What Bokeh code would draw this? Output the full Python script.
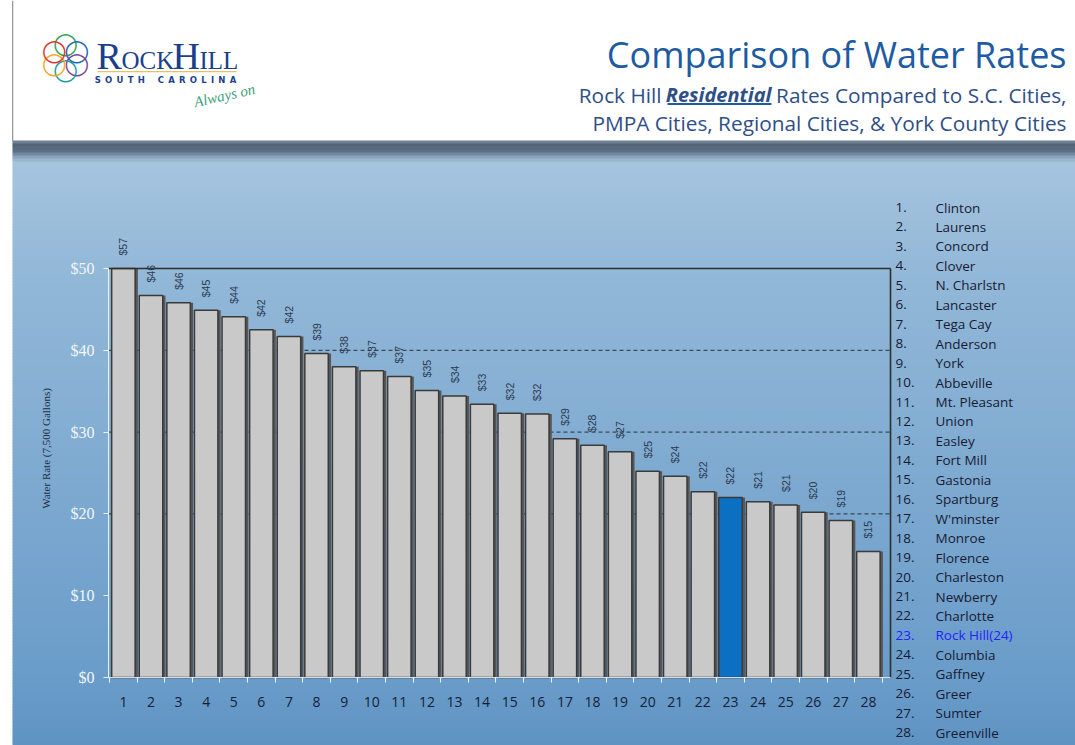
import numpy as np
from bokeh.plotting import figure
from bokeh.models import ColumnDataSource, Range1d, FixedTicker, Label, BoxAnnotation
from bokeh.transform import dodge
from bokeh.embed import file_html
from bokeh.resources import INLINE
from bokeh.core.properties import value

# ---------------- data ----------------
ranks = list(range(1, 29))
cities = ["Clinton", "Laurens", "Concord", "Clover", "N. Charlstn", "Lancaster",
          "Tega Cay", "Anderson", "York", "Abbeville", "Mt. Pleasant", "Union",
          "Easley", "Fort Mill", "Gastonia", "Spartburg", "W'minster", "Monroe",
          "Florence", "Charleston", "Newberry", "Charlotte", "Rock Hill(24)",
          "Columbia", "Gaffney", "Greer", "Sumter", "Greenville"]
rates = [57.0, 46.7, 45.8, 44.9, 44.1, 42.5, 41.7, 39.6, 38.0, 37.5, 36.8, 35.1,
         34.4, 33.4, 32.3, 32.2, 29.2, 28.4, 27.6, 25.2, 24.6, 22.7, 22.0, 21.5,
         21.1, 20.2, 19.2, 15.4]
rate_labels = ["$57", "$46", "$46", "$45", "$44", "$42", "$42", "$39", "$38", "$37",
               "$37", "$35", "$34", "$33", "$32", "$32", "$29", "$28", "$27", "$25",
               "$24", "$22", "$22", "$21", "$21", "$20", "$19", "$15"]
y_ticks = [0, 10, 20, 30, 40, 50]
y_tick_labels = ["$0", "$10", "$20", "$30", "$40", "$50"]
ref_lines = [20, 30, 40]
highlight = "Rock Hill(24)"
y_axis_max = 50

title_text = "Comparison of Water Rates"
y_axis_title = "Water Rate (7,500 Gallons)"

# ---------------- layout (canvas pixels) ----------------
W, H = 1075, 745
box_l, box_r, box_b, box_t = 108, 890, 677, 268
chart_x0, chart_x1 = 0.46, 28.8          # data extent of chart box
ppx = (box_r - box_l) / (chart_x1 - chart_x0)
ppy = (box_b - box_t) / y_axis_max
xr = Range1d(chart_x0 - box_l / ppx, chart_x0 + (W - box_l) / ppx)
yr = Range1d(-(H - box_b) / ppy, box_b / ppy)

p = figure(width=W, height=H, output_backend="svg", toolbar_location=None,
           x_range=xr, y_range=yr, min_border=0)
p.background_fill_color = None
p.border_fill_color = "white"
p.outline_line_color = None
p.grid.visible = False


def box(l, r, t, b, color, level="annotation"):
    p.add_layout(BoxAnnotation(left=l, right=r, top=t, bottom=b,
                               left_units="canvas", right_units="canvas",
                               top_units="canvas", bottom_units="canvas",
                               fill_color=color, fill_alpha=1.0, line_color=None,
                               level=level))


def lab(x, y, text, size, color, font="Open Sans", align="left", baseline="middle",
        style="normal", angle=0):
    p.add_layout(Label(x=x, y=y, x_units="canvas", y_units="canvas", text=text,
                       text_font=font, text_font_size=size, text_color=color,
                       text_align=align, text_baseline=baseline, text_font_style=style,
                       angle=angle))


# ---------------- background gradient (slide) ----------------
stops_y = [140, 141, 143, 151, 157, 163, 270, 680, 745]
stops_c = ["#d4d9de", "#7a8a9a", "#4f6275", "#5d7186", "#8ea9c2", "#a5c4de",
           "#93b8d8", "#6a9cc9", "#5f93c2"]


def hex2rgb(h):
    h = h.lstrip("#")
    return [int(h[i:i + 2], 16) for i in (0, 2, 4)]


sc = np.array([hex2rgb(c) for c in stops_c], dtype=float)
step = 3
for yy in range(140, 746, step):
    col = [int(round(np.interp(yy + step / 2, stops_y, sc[:, k]))) for k in range(3)]
    box(12, W, yy, yy + step + 0.5, "#%02x%02x%02x" % tuple(col), level="underlay")
box(11.5, 12.8, 0, 141, "#9a9a9a", level="underlay")

# ---------------- bars ----------------
tops = [min(r, y_axis_max) for r in rates]
colors = ["#0b6fc2" if c == highlight else "#c9c9c9" for c in cities]
src = ColumnDataSource(dict(x=ranks, top=tops, rate=rates, label=rate_labels,
                            city=cities, color=colors))

p.segment(x0=chart_x0, x1=chart_x1, y0=ref_lines, y1=ref_lines,
          line_color="#263238", line_dash="4 3", line_width=1)
p.vbar(x=dodge("x", 0.1, range=p.x_range), top="top", width=0.85, source=src,
       fill_color="#575757", line_color=None)
p.vbar(x="x", top="top", width=0.85, source=src, fill_color="color",
       line_color="#3a3a3a", line_width=1.5)
p.segment(x0=[chart_x0, chart_x1], y0=[y_axis_max, 0], x1=[chart_x1, chart_x1],
          y1=[y_axis_max, y_axis_max], line_color="#2e2e2e", line_width=1.6)
p.text(x="x", y="top", text="label", source=src, angle=np.pi / 2,
       text_align="left", text_baseline="middle", y_offset=-13,
       text_font=value("Liberation Sans"), text_font_size="10.5px",
       text_color="#2b3a4f")

# ---------------- axes ----------------
ya = p.yaxis[0]
ya.fixed_location = chart_x0
ya.ticker = FixedTicker(ticks=y_ticks)
ya.major_label_overrides = {t: l for t, l in zip(y_ticks, y_tick_labels)}
ya.bounds = (0, y_axis_max)
ya.axis_line_color = "#f0f0f0"
ya.major_tick_line_color = "#f0f0f0"
ya.major_tick_out = 5
ya.major_tick_in = 0
ya.minor_tick_line_color = None
ya.major_label_standoff = 9
ya.major_label_text_font = "Liberation Serif"
ya.major_label_text_font_size = "16px"
ya.major_label_text_color = "#f2f6fa"

xa = p.xaxis[0]
xa.fixed_location = 0
xa.bounds = (chart_x0, chart_x1)
xa.ticker = FixedTicker(ticks=ranks, minor_ticks=[r - 0.5 for r in ranks] + [ranks[-1] + 0.5])
xa.axis_line_color = "#d8dde2"
xa.major_tick_line_color = None
xa.major_tick_out = 0
xa.minor_tick_line_color = "#f4f4f4"
xa.minor_tick_out = 5
xa.minor_tick_in = 0
xa.major_label_standoff = 14
xa.major_label_text_font = "Open Sans"
xa.major_label_text_font_size = "14px"
xa.major_label_text_color = "#141e38"

# y-axis title
lab(45, 448, y_axis_title, "11px", "#1d2d45", font="Liberation Serif",
    align="center", angle=np.pi / 2)

# ---------------- right-hand list ----------------
row0, row_step = 207, 19.45
for i, (r, c) in enumerate(zip(ranks, cities)):
    col = "#2222ff" if c == highlight else "#171b33"
    yy = row0 + i * row_step
    lab(895, yy, "%d." % r, "13.5px", col)
    lab(935, yy, c, "13.5px", col)

# ---------------- header ----------------
lab(1066, 54, title_text, "36px", "#1d5ba3", align="right")
lab(1066, 94, "Rates Compared to S.C. Cities,", "20.8px", "#2e4f88", align="right")
lab(771, 94, "Residential", "20px", "#2e4f88", align="right", style="bold italic")
lab(661, 94, "Rock Hill", "20.8px", "#2e4f88", align="right")
lab(1066, 122, "PMPA Cities, Regional Cities, & York County Cities", "20.8px", "#2e4f88",
    align="right")
box(667, 771, 102.5, 104.5, "#1d5ba3")

# logo
petal_cols = ["#2ea44f", "#1e64b4", "#7d3f9f", "#1b9aa0", "#f2a91f", "#e0332e"]
for k, pc in enumerate(petal_cols):
    ang = np.pi / 2 - k * np.pi / 3
    lab(65 + 13 * np.cos(ang), 56 - 13 * np.sin(ang), "\u25ef", "22px", pc,
        font="DejaVu Sans", align="center", style="bold")
lab(96, 55.5, "R", "38px", "#1b3f8c", font="Liberation Serif")
lab(121, 59.5, "OCK", "25px", "#1b3f8c", font="Liberation Serif")
lab(172, 55.5, "H", "38px", "#1b3f8c", font="Liberation Serif")
lab(199, 59.5, "ILL", "25px", "#1b3f8c", font="Liberation Serif")
box(97, 236, 70.5, 71.7, "#e8c25a")
sp = "\u2002"
lab(165, 79.5, sp.join("SOUTH") + sp * 3 + sp.join("CAROLINA"), "8.5px", "#1b3f8c",
    font="DejaVu Sans", align="center", style="bold")
lab(224, 95, "Always on", "15px", "#3a9f78", font="Liberation Serif", style="italic",
    align="center", angle=0.22)

open("out.html", "w").write(file_html(p, INLINE))
